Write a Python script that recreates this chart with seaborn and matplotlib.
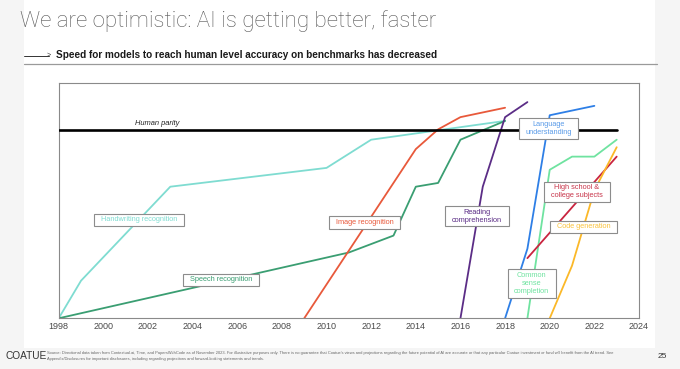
import matplotlib
matplotlib.use("Agg")
import matplotlib.pyplot as plt
from matplotlib.patches import Rectangle
from matplotlib.path import Path
import pandas as pd
import seaborn as sns

# Human parity = 100 on the value scale
handwriting_years = [1998, 1999, 2003, 2010, 2012, 2018]
handwriting_vals = [0, 20, 70, 80, 95, 105]
speech_years = [1998, 2011, 2013, 2014, 2015, 2016, 2018]
speech_vals = [0, 35, 44, 70, 72, 95, 105]
image_years = [2009, 2014, 2015, 2016, 2018]
image_vals = [0, 90, 100.5, 107, 112]
reading_years = [2016, 2017, 2018, 2019]
reading_vals = [0, 70, 107, 115]
language_years = [2018, 2019, 2020, 2022]
language_vals = [0, 37, 108, 113]
common_years = [2019, 2020, 2021, 2022, 2023]
common_vals = [0, 79, 86, 86, 95]
school_years = [2019, 2023]
school_vals = [32, 86]
code_years = [2020, 2021, 2022, 2023]
code_vals = [0, 28, 68, 91]

parity_years = [1998, 2023]
parity_level = 100

tick_years = list(range(1998, 2025, 2))

series = {
    "Handwriting recognition": (handwriting_years, handwriting_vals),
    "Speech recognition": (speech_years, speech_vals),
    "Image recognition": (image_years, image_vals),
    "Reading\ncomprehension": (reading_years, reading_vals),
    "Language\nunderstanding": (language_years, language_vals),
    "Common\nsense\ncompletion": (common_years, common_vals),
    "High school &\ncollege subjects": (school_years, school_vals),
    "Code generation": (code_years, code_vals),
}

line_colors = {
    "Handwriting recognition": "#7fdcd1",
    "Speech recognition": "#3a9e72",
    "Image recognition": "#e8593b",
    "Reading\ncomprehension": "#5b2d86",
    "Language\nunderstanding": "#2e7fe6",
    "Common\nsense\ncompletion": "#6fe3a0",
    "High school &\ncollege subjects": "#c9243f",
    "Code generation": "#fbb828",
}
text_colors = dict(line_colors)
text_colors["Language\nunderstanding"] = "#5a9be8"
text_colors["High school &\ncollege subjects"] = "#c8364b"
text_colors["Code generation"] = "#f9c23c"

# label box centres (year, value)
label_pos = {
    "Handwriting recognition": (2001.6, 52.4),
    "Speech recognition": (2005.27, 20.4),
    "Image recognition": (2011.7, 51),
    "Reading\ncomprehension": (2016.74, 54.4),
    "Language\nunderstanding": (2019.94, 100.9),
    "Common\nsense\ncompletion": (2019.2, 18.6),
    "High school &\ncollege subjects": (2021.22, 67.3),
    "Code generation": (2021.53, 48.6),
}

rows = []
for name, (yrs, vals) in series.items():
    for y, v in zip(yrs, vals):
        rows.append({"series": name, "year": y, "value": v})
df = pd.DataFrame(rows)

sns.set_style("white")
plt.rcParams["font.family"] = ["Liberation Sans", "DejaVu Sans"]

W, H = 680, 369
fig = plt.figure(figsize=(6.8, 3.69), dpi=100, facecolor="#f5f5f5")
fig.patches.append(Rectangle((24 / W, 21 / H), 631 / W, 1 - 21 / H,
                             transform=fig.transFigure, fc="white", ec="none", zorder=-1))

ax = fig.add_axes([58.7 / W, 1 - 318.3 / H, 580.3 / W, 235 / H])
ax.set_facecolor("white")

sns.lineplot(data=df, x="year", y="value", hue="series", palette=line_colors,
             estimator=None, sort=False, legend=False, linewidth=1.3, ax=ax, zorder=2)
sns.lineplot(x=parity_years, y=[parity_level] * len(parity_years), color="black",
             linewidth=1.9, ax=ax, zorder=3)
ax.text(2001.42, 103.7, "Human parity", fontsize=5.4, style="italic",
        color="#222222", va="center", ha="left")


def wide_box(x0, y0, width, height, mutation_size):
    px, py = 0.9 * mutation_size, 0.37 * mutation_size
    x0, y0 = x0 - px, y0 - py
    x1, y1 = x0 + width + 2 * px, y0 + height + 2 * py
    return Path([(x0, y0), (x1, y0), (x1, y1), (x0, y1), (x0, y0)], closed=True)


for name, (lx, ly) in label_pos.items():
    ax.text(lx, ly, name, fontsize=5.3, color=text_colors[name], ha="center",
            va="center", multialignment="center", linespacing=1.2, zorder=5,
            bbox=dict(boxstyle=wide_box, fc="white", ec="#8c8c8c", lw=0.8))

ax.set_xlim(1998, 2024)
ax.set_ylim(0, 125)
ax.set_xticks(tick_years)
ax.set_xticklabels([str(t) for t in tick_years])
ax.set_yticks([])
ax.set_xlabel("")
ax.set_ylabel("")
ax.tick_params(axis="x", length=0, pad=3, labelsize=6.5, labelcolor="#4a4a4a")
for sp in ax.spines.values():
    sp.set_color("#8a8a8a")
    sp.set_linewidth(0.8)

# header
fig.text(20 / W, 1 - 21.5 / H, "We are optimistic: AI is getting better, faster",
         fontsize=16, color="#555555", va="center", ha="left",
         family=["Roboto", "Liberation Sans"], fontweight="light")
fig.add_artist(plt.Line2D([24 / W, 49 / W], [1 - 55.5 / H] * 2, color="#333333", lw=0.7))
fig.text(50.5 / W, 1 - 55.5 / H, ">", fontsize=5, color="#333333", va="center", ha="right")
fig.text(56.5 / W, 1 - 55.5 / H,
         "Speed for models to reach human level accuracy on benchmarks has decreased",
         fontsize=7.2, fontweight="bold", color="#1a1a1a", va="center", ha="left")
fig.add_artist(plt.Line2D([24 / W, 657 / W], [1 - 64.3 / H] * 2, color="#9a9a9a", lw=0.9))

# footer
fig.text(5 / W, 1 - 356 / H, "COATUE", fontsize=7.3, color="#333333", va="center", ha="left")
fig.text(47 / W, 1 - 356 / H,
         "Source: Directional data taken from Contextual.ai, Time, and PapersWithCode as of November 2023. "
         "For illustrative purposes only. There is no guarantee that Coatue's views and projections regarding "
         "the future potential of AI are accurate or that any particular Coatue investment or fund will benefit "
         "from the AI trend. See\nAppendix/Disclosures for important disclosures, including regarding projections "
         "and forward-looking statements and trends.",
         fontsize=2.9, color="#666666", va="center", ha="left", linespacing=1.5)
fig.text(662 / W, 1 - 357 / H, "25", fontsize=6, color="#333333", va="center", ha="center")

fig.savefig("out.png", dpi=100, facecolor=fig.get_facecolor())
